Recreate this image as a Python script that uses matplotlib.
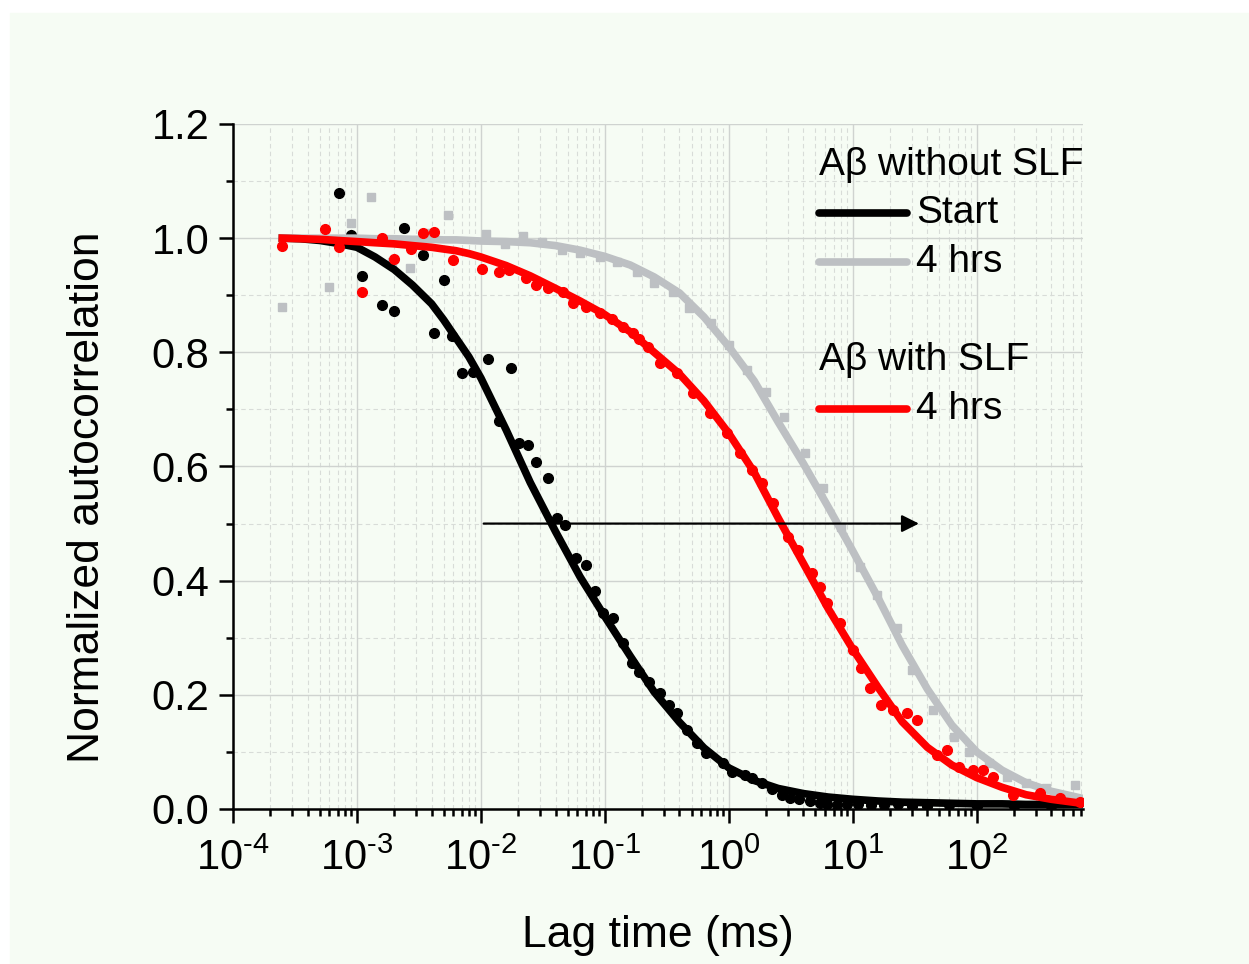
import numpy as np
import matplotlib
matplotlib.use("Agg")
import matplotlib.pyplot as plt
from matplotlib.ticker import LogLocator, MultipleLocator, NullFormatter
from matplotlib.patches import Rectangle
from matplotlib.lines import Line2D

plt.rcParams['font.family'] = ['Liberation Sans', 'DejaVu Sans']
plt.rcParams['mathtext.fontset'] = 'custom'
plt.rcParams['mathtext.rm'] = 'Liberation Sans'
plt.rcParams['axes.unicode_minus'] = False

# fitted curves, lag time in ms
fit_tau = [2.5e-4, 3.5e-4, 5e-4, 7e-4, 1e-3, 1.4e-3, 2e-3, 2.8e-3, 4e-3, 5e-3, 6.3e-3, 8e-3, 0.01,
           0.016, 0.025, 0.04, 0.063, 0.1, 0.16, 0.25, 0.4, 0.63, 1,
           1.6, 2.5, 4, 6.3, 10, 16, 25, 40, 63, 100, 160, 250, 400, 700]
fit_start = [1.0, 0.999, 0.996, 0.991, 0.984, 0.967, 0.945, 0.918, 0.885, 0.857, 0.825, 0.792, 0.755,
             0.664, 0.572, 0.486, 0.407, 0.337, 0.268, 0.205, 0.152, 0.107, 0.072,
             0.050, 0.036, 0.027, 0.021, 0.017, 0.014, 0.012, 0.011, 0.010, 0.009, 0.009, 0.008,
             0.008, 0.008]
fit_4h = [1.0, 1.0, 1.0, 1.0, 1.0, 0.999, 0.999, 0.998, 0.998, 0.997, 0.997, 0.996, 0.995,
          0.994, 0.992, 0.987, 0.979, 0.968, 0.953, 0.932, 0.904, 0.862, 0.81,
          0.75, 0.678, 0.605, 0.53, 0.452, 0.37, 0.287, 0.21, 0.147, 0.10, 0.068, 0.046,
          0.031, 0.019]
fit_slf = [1.0, 0.999, 0.998, 0.996, 0.994, 0.992, 0.99, 0.987, 0.984, 0.981, 0.978, 0.973, 0.967,
           0.952, 0.934, 0.912, 0.89, 0.866, 0.836, 0.80, 0.762, 0.715, 0.658,
           0.59, 0.51, 0.43, 0.352, 0.28, 0.213, 0.153, 0.108, 0.077, 0.055, 0.038, 0.025,
           0.017, 0.01]

# measured points
start_tau = [7.1e-4, 8.9e-4, 1.1e-3, 1.6e-3, 2.0e-3, 2.4e-3, 3.4e-3, 4.2e-3, 5.0e-3, 5.8e-3,
             7.1e-3, 8.7e-3, 1.15e-2, 1.4e-2, 1.74e-2, 2.04e-2, 2.4e-2, 2.8e-2, 3.5e-2, 4.1e-2,
             4.8e-2, 5.8e-2, 7.1e-2, 8.3e-2, 9.6e-2, 0.116, 0.14, 0.166, 0.19, 0.226,
             0.278, 0.33, 0.38, 0.457, 0.55, 0.66, 0.9, 1.07, 1.35, 1.53,
             1.85, 2.24, 2.7, 3.1, 3.7, 4.5, 5.4, 6.2, 7.4, 8.9,
             11, 14, 18, 23, 30, 40, 60, 100, 200, 400]
start_g = [1.079, 1.005, 0.934, 0.883, 0.872, 1.017, 0.970, 0.834, 0.926, 0.828,
           0.764, 0.765, 0.788, 0.68, 0.772, 0.641, 0.638, 0.608, 0.58, 0.51,
           0.497, 0.44, 0.427, 0.382, 0.343, 0.334, 0.29, 0.256, 0.24, 0.222,
           0.203, 0.182, 0.168, 0.138, 0.115, 0.098, 0.081, 0.065, 0.06, 0.054,
           0.045, 0.035, 0.025, 0.019, 0.017, 0.014, 0.01, 0.009, 0.007, 0.009,
           0.008, 0.007, 0.007, 0.008, 0.006, 0.006, 0.007, 0.006, 0.006, 0.005]

h4_tau = [2.5e-4, 6.0e-4, 8.9e-4, 1.3e-3, 1.9e-3, 2.7e-3, 3.9e-3, 5.4e-3, 1.1e-2, 1.55e-2,
          2.2e-2, 3.1e-2, 4.5e-2, 6.3e-2, 9.1e-2, 0.126, 0.18, 0.25, 0.355, 0.48,
          0.72, 1.0, 1.41, 2.0, 2.8, 4.1, 5.8, 8.1, 11.5, 15.8,
          22.6, 30, 44, 65, 87, 126, 174, 251, 363, 617]
h4_g = [0.879, 0.914, 1.026, 1.072, 0.958, 0.947, 1.009, 1.04, 1.007, 0.99,
        1.003, 0.993, 0.979, 0.974, 0.967, 0.958, 0.94, 0.921, 0.905, 0.877,
        0.851, 0.813, 0.769, 0.73, 0.686, 0.623, 0.562, 0.494, 0.424, 0.375,
        0.317, 0.243, 0.173, 0.126, 0.1, 0.081, 0.056, 0.046, 0.037, 0.042]

slf_tau = [2.5e-4, 5.5e-4, 7.1e-4, 1.1e-3, 1.6e-3, 2.0e-3, 2.75e-3, 3.4e-3, 4.2e-3, 5.9e-3,
           1.02e-2, 1.4e-2, 1.7e-2, 2.3e-2, 2.8e-2, 3.5e-2, 4.6e-2, 5.5e-2, 7.1e-2, 9.1e-2,
           0.115, 0.14, 0.17, 0.19, 0.224, 0.278, 0.38, 0.51, 0.71, 0.96,
           1.23, 1.55, 1.85, 2.26, 3.0, 3.6, 4.7, 5.4, 6.2, 7.9,
           10, 11.7, 13.8, 17, 21, 27.5, 33, 48, 58, 72,
           93, 112, 135, 195, 324, 468, 676]
slf_g = [0.986, 1.016, 0.984, 0.905, 1.0, 0.963, 0.981, 1.009, 1.01, 0.961,
         0.946, 0.94, 0.944, 0.93, 0.918, 0.912, 0.905, 0.886, 0.879, 0.869,
         0.858, 0.844, 0.834, 0.823, 0.809, 0.781, 0.764, 0.729, 0.694, 0.659,
         0.624, 0.594, 0.571, 0.536, 0.476, 0.454, 0.413, 0.389, 0.361, 0.326,
         0.278, 0.247, 0.212, 0.182, 0.173, 0.168, 0.156, 0.095, 0.103, 0.074,
         0.068, 0.068, 0.056, 0.025, 0.028, 0.019, 0.012]

black = '#000000'
grey = '#bdc0c3'
red = '#ff0000'
lw = 5.5

fig = plt.figure(figsize=(12.49, 9.64), dpi=100, facecolor='white')
fig.patches.append(Rectangle((10 / 1249, 0), 1, (964 - 13) / 964,
                             transform=fig.transFigure, color='#f6fcf4', zorder=-10))
ax = fig.add_axes([233 / 1249, 1 - 809 / 964, 850 / 1249, 685 / 964])
ax.set_facecolor('none')

ax.plot(start_tau, start_g, 'o', color=black, ms=7, zorder=3)
ax.plot(fit_tau, fit_start, '-', color=black, lw=lw, zorder=4)
ax.plot(h4_tau, h4_g, 's', color=grey, ms=6, zorder=3)
ax.plot(fit_tau, fit_4h, '-', color=grey, lw=lw, zorder=4)
ax.plot(slf_tau, slf_g, 'o', color=red, ms=7, zorder=5)
ax.plot(fit_tau, fit_slf, '-', color=red, lw=lw, zorder=5)

ax.annotate('', xy=(36, 0.5), xytext=(0.01, 0.5),
            arrowprops=dict(arrowstyle='-|>', lw=1.6, color='black', mutation_scale=26),
            zorder=6)

ax.set_xscale('log')
ax.set_xlim(1e-4, 720)
ax.set_ylim(0, 1.2)
ax.xaxis.set_major_locator(LogLocator(base=10, numticks=20))
ax.xaxis.set_minor_locator(LogLocator(base=10, subs=np.arange(2, 10), numticks=20))
ax.xaxis.set_minor_formatter(NullFormatter())


def decade(v, p):
    e = int(round(np.log10(v)))
    sign = '\u2010' if e < 0 else ''
    return f'$\\mathdefault{{10^{{{sign}{abs(e)}}}}}$'


ax.xaxis.set_major_formatter(plt.FuncFormatter(decade))
ax.yaxis.set_major_locator(MultipleLocator(0.2))
ax.yaxis.set_minor_locator(MultipleLocator(0.1))
ax.yaxis.set_major_formatter(plt.FuncFormatter(lambda v, p: f'{v:.1f}'))

for s in ['top', 'right']:
    ax.spines[s].set_visible(False)
for s in ['left', 'bottom']:
    ax.spines[s].set_linewidth(1.8)

ax.tick_params(which='major', direction='out', length=10, width=1.8, labelsize=30, pad=7)
ax.tick_params(axis='x', which='major', pad=11)
ax.tick_params(which='minor', direction='out', length=5, width=1.8)
ax.set_axisbelow(True)
ax.grid(which='major', color='#cfd3d0', lw=1.0, ls='-')
ax.grid(which='minor', color='#d8dcd8', lw=0.8, ls=(0, (4, 3)))

fig.text(88 / 1249, 1 - 497 / 964, 'Normalized autocorrelation', rotation=90,
         ha='center', va='center', fontsize=32)
fig.text(658 / 1249, 1 - 935 / 964, 'Lag time (ms)', ha='center', va='center', fontsize=32)

# legend drawn by hand
W, H = 1249, 964
fs = 28
fig.text(819 / W, 1 - 165 / H, 'A\u03b2 without SLF', ha='left', va='center', fontsize=fs)
fig.text(819 / W, 1 - 360 / H, 'A\u03b2 with SLF', ha='left', va='center', fontsize=fs)
for py, col, lab in [(213, black, 'Start'), (262, grey, '4 hrs'), (409, red, '4 hrs')]:
    fig.add_artist(Line2D([819 / W, 907 / W], [1 - py / H, 1 - py / H], color=col, lw=lw,
                          solid_capstyle='round', transform=fig.transFigure))
    fig.text(916 / W, 1 - py / H, lab, ha='left', va='center', fontsize=fs)

fig.savefig('out.png', dpi=100)
